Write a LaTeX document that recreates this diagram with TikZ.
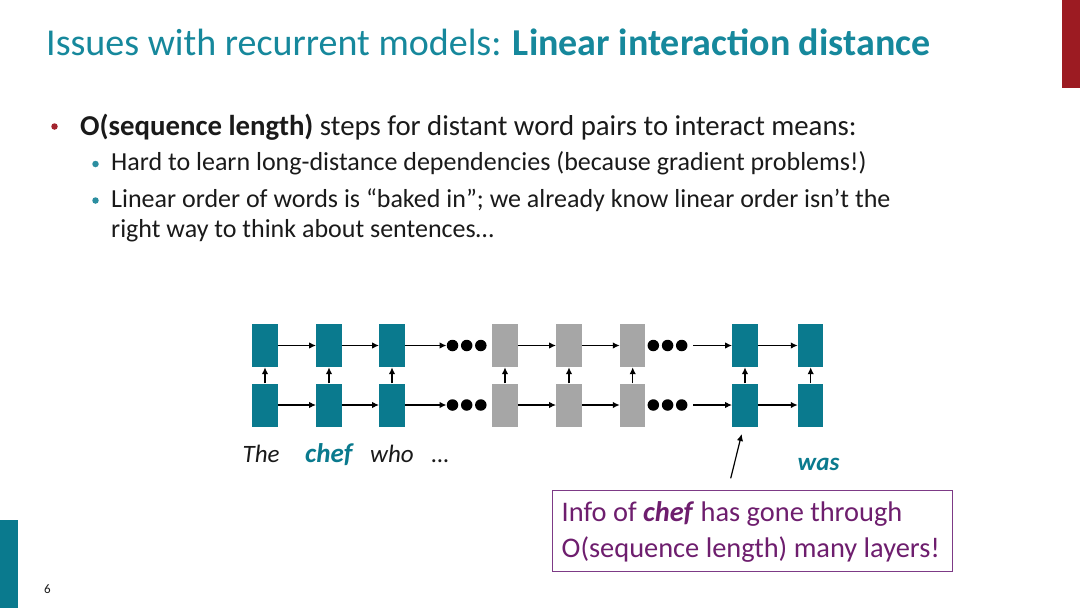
\documentclass[tikz,border=0pt]{standalone}
\usepackage{fontspec}
\setmainfont{Carlito}
\usetikzlibrary{arrows.meta}
\definecolor{titleteal}{HTML}{16889C}
\definecolor{boxteal}{HTML}{0A7A8E}
\definecolor{boxgray}{HTML}{A6A6A6}
\definecolor{barred}{HTML}{9C1B22}
\definecolor{bulred}{HTML}{A3242E}
\definecolor{bulteal}{HTML}{2B8EA0}
\definecolor{plum}{HTML}{6E1E6E}
\definecolor{plumframe}{HTML}{7D3A86}
\definecolor{textblack}{HTML}{1A1A1A}
\tikzset{
  rnnbox/.style={minimum width=25.5pt, minimum height=43pt, inner sep=0pt, draw=none},
  tealbox/.style={rnnbox, fill=boxteal},
  graybox/.style={rnnbox, fill=boxgray},
  dotn/.style={circle, fill=black, minimum size=11.5pt, inner sep=0pt},
  bul/.style={circle, minimum size=6.5pt, inner sep=0pt},
  arr/.style={line width=1.3pt, -{Latex[length=7pt,width=6.5pt]}},
  txt/.style={anchor=base west, inner sep=0pt, text=textblack},
}
\begin{document}
\begin{tikzpicture}[x=1pt,y=-1pt]
\useasboundingbox (0,0) rectangle (1080,608);
\fill[white] (0,0) rectangle (1080,608);
% side bars
\fill[barred] (1062,0) rectangle (1080,88);
\fill[boxteal] (0,520) rectangle (17.5,608);
% title
\node[txt, text=titleteal] (title) at (46,55) {\fontsize{38}{42}\selectfont Issues with recurrent models: \textbf{Linear interaction distance}};
% bullets
\node[bul, fill=bulred] (b1) at (54.5,126.5) {};
\node[txt] (l1) at (80,135) {\fontsize{28.8}{32}\selectfont \textbf{O(sequence length)} steps for distant word pairs to interact means:};
\node[bul, fill=bulteal] (b2) at (95.5,164) {};
\node[txt] (l2) at (111,170.5) {\fontsize{26}{30}\selectfont Hard to learn long-distance dependencies (because gradient problems!)};
\node[bul, fill=bulteal] (b3) at (95.5,200.5) {};
\node[txt] (l3) at (111,207) {\fontsize{26}{30}\selectfont Linear order of words is “baked in”; we already know linear order isn’t the};
\node[txt] (l4) at (111,237) {\fontsize{26}{30}\selectfont right way to think about sentences…};
% page number
\node[txt] (pg) at (44,593) {\fontsize{13}{15}\selectfont 6};
% RNN boxes
\foreach \n/\x/\s in {1/265/tealbox,2/329/tealbox,3/392/tealbox,4/505/graybox,5/569/graybox,6/632.7/graybox,7/745/tealbox,8/810.7/tealbox}{
  \node[\s] (T\n) at (\x,345.5) {};
  \node[\s] (B\n) at (\x,405) {};
}
% dots
\foreach \n/\x in {a/452.5,b/466.7,c/480.8}{\node[dotn] (d1\n) at (\x,345.5) {};\node[dotn] (e1\n) at (\x,405) {};}
\foreach \n/\x in {a/653.3,b/667.6,c/681.7}{\node[dotn] (d2\n) at (\x,345.5) {};\node[dotn] (e2\n) at (\x,405) {};}
% horizontal arrows
\foreach \r in {T,B}{
  \draw[arr] (\r1.east) -- (\r2.west);
  \draw[arr] (\r2.east) -- (\r3.west);
  \draw[arr] (\r4.east) -- (\r5.west);
  \draw[arr] (\r5.east) -- (\r6.west);
  \draw[arr] (\r7.east) -- (\r8.west);
}
\draw[arr] (T3.east) -- (d1a.west);
\draw[arr] (B3.east) -- (e1a.west);
\draw[arr, shorten <=5.5pt] (d2c.east) -- (T7.west);
\draw[arr, shorten <=5.5pt] (e2c.east) -- (B7.west);
% vertical arrows
\foreach \n in {1,...,8}{\draw[arr] (B\n.north) -- (T\n.south);}
% words
\node[txt] (w1) at (242.5,462) {\fontsize{25}{30}\selectfont\itshape The};
\node[txt, text=boxteal] (w2) at (305,462) {\fontsize{27}{30}\selectfont\bfseries\itshape chef};
\node[txt] (w3) at (370,462) {\fontsize{25}{30}\selectfont\itshape who\hspace{18pt}…};
\node[txt, text=boxteal] (w4) at (797.5,470) {\fontsize{25}{30}\selectfont\bfseries\itshape was};
% annotation
\coordinate (pa) at (730.7,478.3);
\coordinate (pb) at (741.7,434);
\draw[arr, line width=1.2pt] (pa) -- (pb);
\node[draw=plumframe, line width=1.3pt, minimum width=400pt, minimum height=81pt, inner sep=0pt, anchor=north west] (info) at (552,490) {};
\node[txt, text=plum] (i1) at (561.5,521) {\fontsize{28.4}{32}\selectfont Info of \textbf{\textit{chef}} has gone through};
\node[txt, text=plum] (i2) at (561.5,557) {\fontsize{28.4}{32}\selectfont O(sequence length) many layers!};
\end{tikzpicture}
\end{document}
